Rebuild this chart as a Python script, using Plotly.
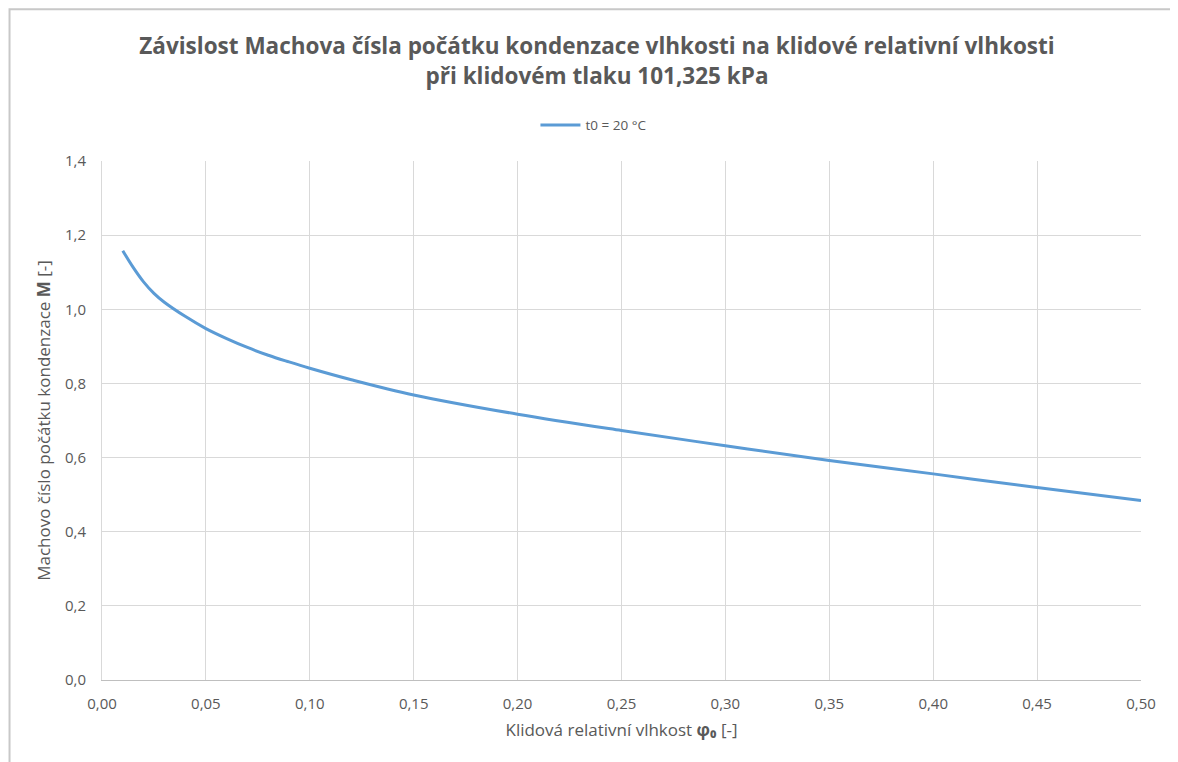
import plotly.graph_objects as go

# Data
phi0 = [0.010, 0.015, 0.020, 0.025, 0.030, 0.040, 0.050, 0.060, 0.070, 0.080, 0.090,
        0.100, 0.120, 0.150, 0.200, 0.250, 0.300, 0.350, 0.400, 0.450, 0.500]
mach = [1.158, 1.113, 1.074, 1.043, 1.019, 0.981, 0.948, 0.921, 0.897, 0.876, 0.858,
        0.841, 0.810, 0.769, 0.717, 0.673, 0.632, 0.592, 0.556, 0.519, 0.484]

grey = "#595959"
font_family = "Open Sans, Lato, sans-serif"

fig = go.Figure()
fig.add_trace(go.Scatter(
    x=phi0, y=mach, mode="lines", line=dict(color="#5b9bd5", width=3, shape="spline"),
    name="t0 = 20 °C"))

# outer chart border (excel-like frame)
fig.add_shape(type="rect", xref="paper", yref="paper",
              x0=-0.089, x1=1.034, y0=-0.2, y1=1.2925,
              line=dict(color="#c8c8c8", width=2), layer="below")

fig.update_layout(
    width=1178, height=762,
    margin=dict(l=93.5, r=45.3, t=153, b=89.7),
    paper_bgcolor="white", plot_bgcolor="white",
    separators=", ",
    font=dict(family=font_family, color=grey, size=15),
    title=dict(
        text="<b>Závislost Machova čísla počátku kondenzace vlhkosti na klidové relativní vlhkosti<br>při klidovém tlaku 101,325 kPa</b>",
        x=0.5, xanchor="center", y=0.939, yanchor="middle",
        font=dict(size=22.5, color=grey, family=font_family)),
    legend=dict(orientation="h", x=0.473, xanchor="center", y=1.069, yanchor="middle",
                font=dict(size=13.5, color=grey), itemwidth=40),
    showlegend=True,
)
fig.update_xaxes(range=[0, 0.5], dtick=0.05, tickformat=".2f", showgrid=True,
                 gridcolor="#d9d9d9", gridwidth=1, showline=True, linecolor="#bfbfbf",
                 zeroline=False, ticks="", ticklabelstandoff=10,
                 title=dict(text="Klidová relativní vlhkost <b>φ₀</b> [-]", font=dict(size=17, color=grey), standoff=12),
                 tickfont=dict(size=15, color=grey))
fig.update_yaxes(range=[0, 1.4], dtick=0.2, tickformat=".1f", showgrid=True,
                 gridcolor="#d9d9d9", gridwidth=1, showline=True, linecolor="#d9d9d9",
                 zeroline=False, ticks="", ticklabelstandoff=12,
                 title=dict(text="Machovo číslo počátku kondenzace <b>M</b> [-]", font=dict(size=17, color=grey), standoff=10),
                 tickfont=dict(size=15, color=grey))

fig.write_html("out.html")
